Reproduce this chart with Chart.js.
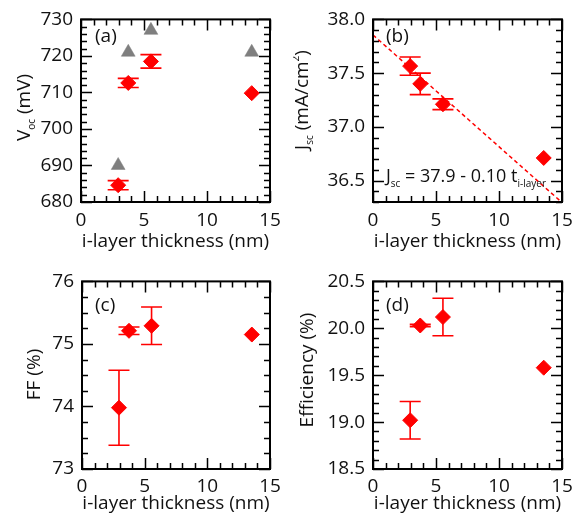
<!DOCTYPE html>
<html>
<head>
<meta charset="utf-8">
<script src="https://cdn.jsdelivr.net/npm/chart.js@4"></script>
<style>
  html, body { margin: 0; padding: 0; background: #fff; }
  body { width: 586px; height: 525px; position: relative; overflow: hidden; }
  canvas { position: absolute; display: block; }
</style>
</head>
<body>
<canvas id="pa" width="293" height="262" style="left:0;top:0"></canvas>
<canvas id="pb" width="293" height="262" style="left:293px;top:0"></canvas>
<canvas id="pc" width="293" height="263" style="left:0;top:262px"></canvas>
<canvas id="pd" width="293" height="263" style="left:293px;top:262px"></canvas>
<script>
// ---------------- data ----------------
const thickness = [2.95, 3.75, 5.55, 13.55];

const vocTriangle = [690, 721, 727, 721];
const vocDiamond  = [684.6, 712.6, 718.5, 709.8];
const vocErr      = [1.25, 1.25, 1.85, 0];

const jscValues = [37.565, 37.40, 37.21, 36.71];
const jscErr    = [0.085, 0.10, 0.05, 0];
const fitX = [0, 15];
const fitY = [37.855, 36.295];

const ffValues = [73.98, 75.21, 75.29, 75.15];
const ffErr    = [0.60, 0.06, 0.30, 0];

const effValues = [19.02, 20.03, 20.12, 19.58];
const effErr    = [0.20, 0.012, 0.20, 0];

// tick specs: min, max, minor step, major step, decimals
const xTickSpec   = [0, 15, 1, 5, 0];
const vocTickSpec = [680, 730, 2, 10, 0];
const jscTickSpec = [36.3, 38.0, 0.1, 0.5, 1];
const ffTickSpec  = [73, 76, 0.25, 1, 0];
const effTickSpec = [18.5, 20.5, 0.1, 0.5, 1];

const xTitle = 'i-layer thickness (nm)';

// ---------------- styling ----------------
const RED = '#ff0000';
const GRAY = '#7f7f7f';
const TXT = '#111111';
const FONT = '"Open Sans", "DejaVu Sans", sans-serif';

function pts(xs, ys) { return xs.map((x, i) => ({x: x, y: ys[i]})); }
function isMajor(v, major) { const r = v / major; return Math.abs(r - Math.round(r)) < 1e-6; }

function drawRich(ctx, segs, px, py, rot, align) {
  ctx.save();
  ctx.translate(px, py);
  ctx.rotate(rot);
  ctx.textBaseline = 'alphabetic';
  ctx.textAlign = 'left';
  ctx.fillStyle = TXT;
  let total = 0;
  for (const s of segs) { ctx.font = s[1] + 'px ' + FONT; s.w = ctx.measureText(s[0]).width; total += s.w; }
  let x = align === 'center' ? -total / 2 : 0;
  for (const s of segs) { ctx.font = s[1] + 'px ' + FONT; ctx.fillText(s[0], x, s[2] || 0); x += s.w; }
  ctx.restore();
}

function makePanel(id, cfg) {
  const canvas = document.getElementById(id);
  const W = canvas.width, H = canvas.height;
  const A = cfg.area;
  const xs = xTickSpec, ys = cfg.yTicks;

  const deco = {
    id: 'deco_' + id,
    beforeDatasetsDraw(chart) {
      const ctx = chart.ctx, xS = chart.scales.x, yS = chart.scales.y;
      ctx.save();
      ctx.strokeStyle = RED;
      ctx.lineWidth = 1.6;
      chart.data.datasets.forEach(ds => {
        if (!ds.errors) return;
        ds.data.forEach((p, i) => {
          const e = ds.errors[i];
          if (!e) return;
          const px = xS.getPixelForValue(p.x);
          const y1 = yS.getPixelForValue(p.y + e), y2 = yS.getPixelForValue(p.y - e);
          ctx.beginPath();
          ctx.moveTo(px, y1); ctx.lineTo(px, y2);
          ctx.moveTo(px - 10.5, y1); ctx.lineTo(px + 10.5, y1);
          ctx.moveTo(px - 10.5, y2); ctx.lineTo(px + 10.5, y2);
          ctx.stroke();
        });
      });
      ctx.restore();
    },
    afterDraw(chart) {
      const ctx = chart.ctx, ca = chart.chartArea, xS = chart.scales.x, yS = chart.scales.y;
      ctx.save();
      ctx.strokeStyle = '#000';
      ctx.lineWidth = 1.5;
      ctx.beginPath();
      xS.ticks.forEach(t => {
        const px = Math.round(xS.getPixelForValue(t.value)) + 0.5;
        const len = isMajor(t.value, xs[3]) ? 11 : 6;
        ctx.moveTo(px, ca.bottom); ctx.lineTo(px, ca.bottom - len);
        ctx.moveTo(px, ca.top); ctx.lineTo(px, ca.top + len);
      });
      yS.ticks.forEach(t => {
        const py = Math.round(yS.getPixelForValue(t.value)) + 0.5;
        const len = isMajor(t.value, ys[3]) ? 11 : 6;
        ctx.moveTo(ca.left, py); ctx.lineTo(ca.left + len, py);
        ctx.moveTo(ca.right, py); ctx.lineTo(ca.right - len, py);
      });
      ctx.stroke();
      ctx.lineWidth = 2;
      ctx.strokeRect(ca.left, ca.top, ca.right - ca.left, ca.bottom - ca.top);
      ctx.restore();
      drawRich(ctx, [[xTitle, 19]], (ca.left + ca.right) / 2, cfg.xTitleY, 0, 'center');
      drawRich(ctx, cfg.yTitle, cfg.yTitleX, cfg.yTitleY, -Math.PI / 2, 'center');
      drawRich(ctx, [[cfg.label, 19]], cfg.labelPos[0], cfg.labelPos[1], 0, 'left');
      if (cfg.note) drawRich(ctx, cfg.note, cfg.notePos[0], cfg.notePos[1], 0, 'left');
    }
  };

  return new Chart(canvas, {
    type: 'scatter',
    data: { datasets: cfg.datasets },
    options: {
      responsive: false,
      animation: false,
      events: [],
      layout: { padding: { left: 0, top: A[1], right: W - A[2], bottom: 0 } },
      plugins: { legend: { display: false }, tooltip: { enabled: false } },
      scales: {
        x: {
          type: 'linear', min: xs[0], max: xs[1],
          grid: { display: false, drawTicks: false }, border: { display: false },
          ticks: {
            stepSize: xs[2], autoSkip: false, maxRotation: 0, padding: cfg.xPad,
            color: TXT, font: { family: FONT, size: 19 },
            callback: v => isMajor(v, xs[3]) ? Number(v).toFixed(xs[4]) : ''
          },
          afterFit: s => { s.height = H - A[3]; }
        },
        y: {
          type: 'linear', min: ys[0], max: ys[1],
          grid: { display: false, drawTicks: false }, border: { display: false },
          ticks: {
            stepSize: ys[2], autoSkip: false, padding: 8,
            color: TXT, font: { family: FONT, size: 19 },
            callback: v => isMajor(v, ys[3]) ? Number(v).toFixed(ys[4]) : ''
          },
          afterFit: s => { s.width = A[0]; }
        }
      }
    },
    plugins: [deco]
  });
}

function diamondSet(ys, errs) {
  return {
    data: pts(thickness, ys), errors: errs,
    pointStyle: 'rectRot', pointRadius: 7.5, pointBackgroundColor: RED,
    pointBorderColor: RED, pointBorderWidth: 1, showLine: false
  };
}

makePanel('pa', {
  area: [81, 13, 270, 202], yTicks: vocTickSpec, xPad: 7, xTitleY: 247,
  yTitle: [['V', 19], ['oc', 10, 5], [' (mV)', 19]], yTitleX: 30, yTitleY: 107.5,
  label: '(a)', labelPos: [95, 42],
  datasets: [
    diamondSet(vocDiamond, vocErr),
    { data: pts(thickness, vocTriangle), pointStyle: 'triangle', pointRadius: 8,
      pointBackgroundColor: GRAY, pointBorderColor: GRAY, pointBorderWidth: 0.5, showLine: false }
  ]
});

makePanel('pb', {
  area: [80, 13, 269, 202], yTicks: jscTickSpec, xPad: 7, xTitleY: 247,
  yTitle: [['J', 19], ['sc', 10, 5], [' (mA/cm', 19], ['2', 10, -9], [')', 19]], yTitleX: 15, yTitleY: 100,
  label: '(b)', labelPos: [93, 42],
  note: [['J', 18], ['sc', 10, 5], [' = 37.9 - 0.10 t', 18], ['i-layer', 10, 5]], notePos: [93, 182],
  datasets: [
    diamondSet(jscValues, jscErr),
    { type: 'line', data: pts(fitX, fitY), borderColor: RED, borderWidth: 1.5,
      borderDash: [4, 3], pointRadius: 0, fill: false }
  ]
});

makePanel('pc', {
  area: [82, 18, 270, 207], yTicks: ffTickSpec, xPad: 6, xTitleY: 247,
  yTitle: [['FF (%)', 19]], yTitleX: 40, yTitleY: 112.5,
  label: '(c)', labelPos: [95, 49],
  datasets: [ diamondSet(ffValues, ffErr) ]
});

makePanel('pd', {
  area: [80, 16, 269, 207], yTicks: effTickSpec, xPad: 6, xTitleY: 247,
  yTitle: [['Efficiency (%)', 19]], yTitleX: 20, yTitleY: 108,
  label: '(d)', labelPos: [93, 49],
  datasets: [ diamondSet(effValues, effErr) ]
});
</script>
</body>
</html>
